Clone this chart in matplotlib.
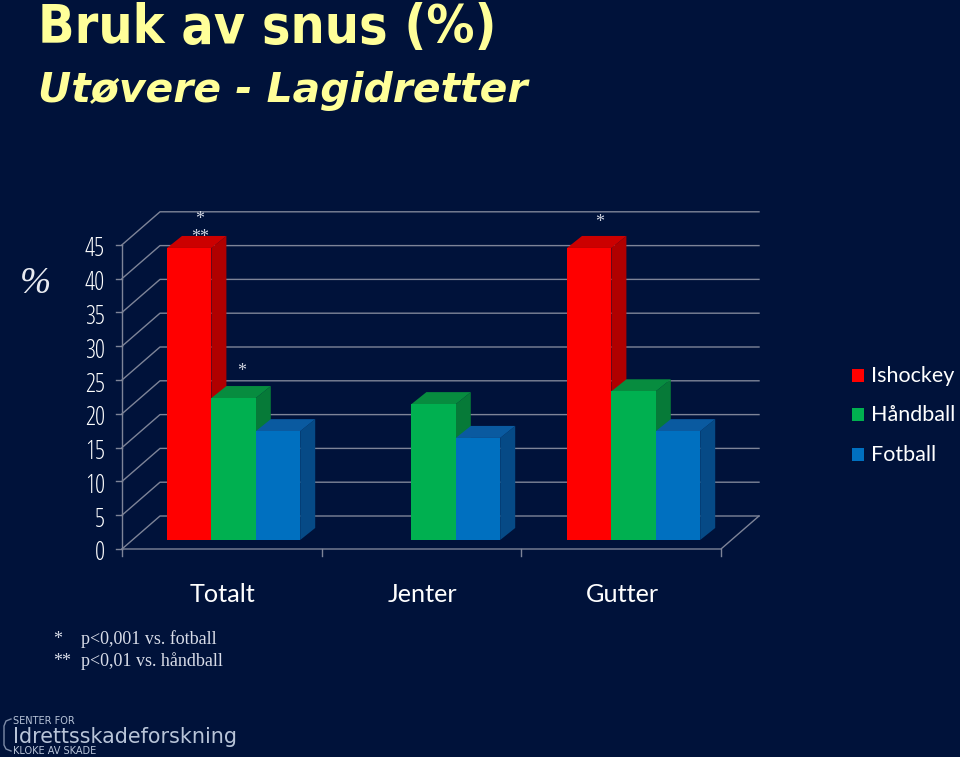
# -*- coding: utf-8 -*-
import numpy as np
import matplotlib
matplotlib.use('Agg')
import matplotlib.pyplot as plt
from matplotlib.patches import Polygon, Rectangle

categories = ['Totalt', 'Jenter', 'Gutter']
series = ['Ishockey', 'Håndball', 'Fotball']
ishockey = [43.2, np.nan, 43.2]
handball = [21.0, 20.1, 22.0]
fotball = [16.1, 15.1, 16.1]
yticks = [0, 5, 10, 15, 20, 25, 30, 35, 40, 45]

bg = '#00123A'
front = ['#FF0000', '#00B050', '#0070C0']
top = ['#CC0000', '#078C3F', '#0A5AA0']
side = ['#B00000', '#067A38', '#064A86']
grid = '#7E8498'
text_col = '#FFFFFF'
title_col = '#FFFF99'
sans = 'Lato'

W, H = 960, 757
fig = plt.figure(figsize=(W / 100, H / 100), dpi=100, facecolor=bg)
ax = fig.add_axes([0, 0, 1, 1])
ax.set_facecolor(bg)
ax.axis('off')

# one category = 200 px, one percent = 6.76 px
ux, uy = 200.0, 6.76
ax.set_xlim(-222 / ux, (W - 222) / ux)
ax.set_ylim((540 - H) / uy, 540 / uy)

bar_w = 44.4 / ux
ddx, ddy = 15 / ux, 12 / uy          # bar depth
wdx, wdy = 38 / ux, 33 / uy          # wall depth
x0, x1 = -0.5, 2.495                 # front axis ends
y0 = -9 / uy                         # floor front height


def val(v):
    return y0 + v


def px(x):
    return (x - 222) / ux


def py(y):
    return (540 - y) / uy


# back wall and floor
for v in yticks:
    ax.plot([x0, x0 + wdx, x1 + wdx], [val(v), val(v) + wdy, val(v) + wdy],
            color=grid, lw=1.0, zorder=1)
ax.plot([x0, x0], [val(0), val(45)], color=grid, lw=1.0, zorder=1)
ax.plot([x0, x1, x1 + wdx], [val(0), val(0), val(0) + wdy], color=grid, lw=1.0, zorder=1)
for v in yticks:
    ax.plot([x0 - 6 / ux, x0], [val(v), val(v)], color=grid, lw=1.0, zorder=1)
    ax.text(x0 - 17 / ux, val(v) - 5 / uy, str(v), color=text_col, fontsize=18, ha='right',
            va='center', family='Open Sans', stretch='condensed')
for t in np.arange(4):
    ax.plot([x0 + t * (x1 - x0) / 3] * 2, [val(0), val(0) - 7 / uy], color=grid, lw=1.0, zorder=1)


def bar3d(x, v, s, z):
    ax.add_patch(Polygon([(x + bar_w, 0), (x + bar_w + ddx, ddy), (x + bar_w + ddx, v + ddy), (x + bar_w, v)],
                         fc=side[s], ec='none', zorder=z))
    ax.add_patch(Polygon([(x, v), (x + ddx, v + ddy), (x + bar_w + ddx, v + ddy), (x + bar_w, v)],
                         fc=top[s], ec='none', zorder=z))
    ax.add_patch(Rectangle((x, 0), bar_w, v, fc=front[s], ec='none', zorder=z + 0.5))


values = [ishockey, handball, fotball]
for c in range(len(categories)):
    for s in range(3):
        v = values[s][c]
        if not np.isnan(v):
            bar3d(c + (-55 + 44.4 * s) / ux, v, s, 2 + s)
    ax.text(c, py(595), categories[c], color=text_col, fontsize=18.2, ha='center',
            va='center', family=sans)

# legend
for s, (name, ly) in enumerate(zip(series, [375, 414, 454])):
    ax.add_patch(Rectangle((px(852), py(ly + 6.5)), 11.5 / ux, 13 / uy, fc=front[s], ec='none'))
    ax.text(px(871), py(ly + 1), name, color=text_col, fontsize=15.5, va='center', family=sans)

# significance marks
star = dict(color='#D0D4E0', fontsize=13, ha='center', va='center', family='Liberation Serif')
ax.text(px(200), py(219), '*', **star)
ax.text(px(200), py(237), '**', **star)
ax.text(px(242), py(371), '*', **star)
ax.text(px(600), py(222), '*', **star)

ax.text(px(35), py(284), '%', color='#E8EAF0', fontsize=27, ha='center', va='center',
        family='Liberation Serif', style='italic')

# titles
ax.text(px(38), py(28), 'Bruk av snus (%)', color=title_col, fontsize=38.5, va='center',
        weight='bold', family='DejaVu Sans', stretch='condensed')
ax.text(px(38), py(91), 'Utøvere - Lagidretter', color=title_col, fontsize=29.4, va='center',
        weight='bold', style='italic', family='DejaVu Sans')

# footnotes
foot = dict(color='#D8DCE8', fontsize=13, va='center', family='Liberation Serif')
ax.text(px(53), py(639), '*', **foot)
ax.text(px(81), py(639), 'p<0,001 vs. fotball', **foot)
ax.text(px(53), py(661), '**', **foot)
ax.text(px(81), py(661), 'p<0,01 vs. håndball', **foot)

# logo
logo = '#B8C4D8'
ax.plot([px(11), px(6), px(4), px(4), px(6), px(11)],
        [py(719), py(721), py(726), py(745), py(749), py(751)], color='#7E8CA8', lw=1.0)
ax.text(px(13), py(721), 'SENTER FOR', color=logo, fontsize=7, va='center', family='DejaVu Sans')
ax.text(px(13), py(737), 'Idrettsskadeforskning', color=logo, fontsize=14.9, va='center', family='DejaVu Sans')
ax.text(px(13), py(751), 'KLOKE AV SKADE', color=logo, fontsize=7, va='center', family='DejaVu Sans')

fig.savefig('out.png', dpi=100, facecolor=bg)
